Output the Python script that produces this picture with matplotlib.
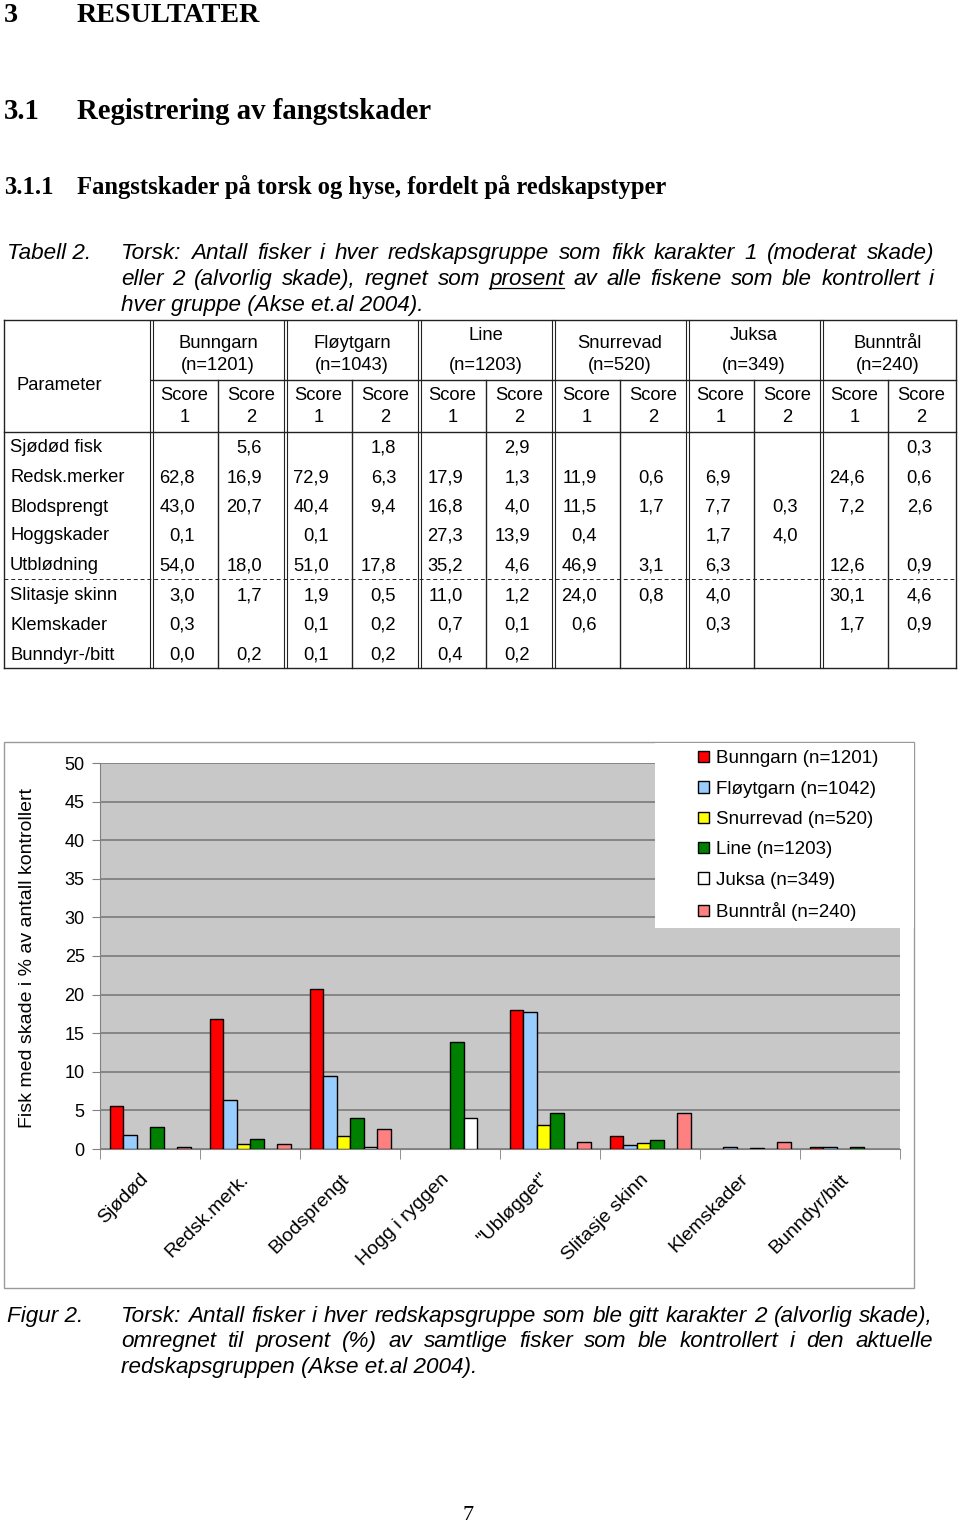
import numpy as np
import matplotlib
matplotlib.use('Agg')
import matplotlib.pyplot as plt
import matplotlib.transforms as mtransforms
from matplotlib.patches import Rectangle

W, H = 960, 1525
SANS = ['Liberation Sans', 'DejaVu Sans']
SERIF = ['Liberation Serif', 'DejaVu Serif']
plt.rcParams['font.family'] = SANS

# ---- data (tabell 2) ----
nan = np.nan
params = ['Sjødød fisk', 'Redsk.merker', 'Blodsprengt', 'Hoggskader',
          'Utblødning', 'Slitasje skinn', 'Klemskader', 'Bunndyr-/bitt']
gear = ['Bunngarn', 'Fløytgarn', 'Line', 'Snurrevad', 'Juksa', 'Bunntrål']
gear_n = ['(n=1201)', '(n=1043)', '(n=1203)', '(n=520)', '(n=349)', '(n=240)']

bunngarn_s1 = [nan, 62.8, 43.0, 0.1, 54.0, 3.0, 0.3, 0.0]
bunngarn_s2 = [5.6, 16.9, 20.7, nan, 18.0, 1.7, nan, 0.2]
floytgarn_s1 = [nan, 72.9, 40.4, 0.1, 51.0, 1.9, 0.1, 0.1]
floytgarn_s2 = [1.8, 6.3, 9.4, nan, 17.8, 0.5, 0.2, 0.2]
line_s1 = [nan, 17.9, 16.8, 27.3, 35.2, 11.0, 0.7, 0.4]
line_s2 = [2.9, 1.3, 4.0, 13.9, 4.6, 1.2, 0.1, 0.2]
snurrevad_s1 = [nan, 11.9, 11.5, 0.4, 46.9, 24.0, 0.6, nan]
snurrevad_s2 = [nan, 0.6, 1.7, nan, 3.1, 0.8, nan, nan]
juksa_s1 = [nan, 6.9, 7.7, 1.7, 6.3, 4.0, 0.3, nan]
juksa_s2 = [nan, nan, 0.3, 4.0, nan, nan, nan, nan]
bunntral_s1 = [nan, 24.6, 7.2, nan, 12.6, 30.1, 1.7, nan]
bunntral_s2 = [0.3, 0.6, 2.6, nan, 0.9, 4.6, 0.9, nan]

table_cols = [(bunngarn_s1, bunngarn_s2), (floytgarn_s1, floytgarn_s2),
              (line_s1, line_s2), (snurrevad_s1, snurrevad_s2),
              (juksa_s1, juksa_s2), (bunntral_s1, bunntral_s2)]

# ---- data (figur 2) ----
categories = ['Sjødød', 'Redsk.merk.', 'Blodsprengt', 'Hogg i ryggen',
              '"Ubløgget"', 'Slitasje skinn', 'Klemskader', 'Bunndyr/bitt']
series_labels = ['Bunngarn (n=1201)', 'Fløytgarn (n=1042)', 'Snurrevad (n=520)',
                 'Line (n=1203)', 'Juksa (n=349)', 'Bunntrål (n=240)']
series_values = [bunngarn_s2, floytgarn_s2, snurrevad_s2, line_s2, juksa_s2, bunntral_s2]
colors = ['#ff0000', '#99ccff', '#ffff00', '#008000', '#ffffff', '#ff8080']

fig = plt.figure(figsize=(W / 100, H / 100), dpi=100)
page = fig.add_axes([0, 0, 1, 1])
page.set_xlim(0, W)
page.set_ylim(H, 0)
page.axis('off')
renderer = fig.canvas.get_renderer()


def justify(words, x0, x1, y, **kw):
    texts = [page.text(0, y, w, va='baseline', ha='left', **kw) for w in words]
    widths = [t.get_window_extent(renderer).width for t in texts]
    gap = ((x1 - x0) - sum(widths)) / (len(words) - 1)
    x = x0
    out = []
    for t, w in zip(texts, widths):
        t.set_x(x)
        out.append((x, w))
        x += w + gap
    return out


def fmt(v):
    return '' if np.isnan(v) else f'{v:.1f}'.replace('.', ',')


# ---- headings ----
hd = dict(family=SERIF, weight='bold', va='baseline')
page.text(4, 22, '3', fontsize=20.2, **hd)
page.text(77, 22, 'RESULTATER', fontsize=20.2, **hd)
page.text(4, 119, '3.1', fontsize=20.7, **hd)
page.text(77, 119, 'Registrering av fangstskader', fontsize=20.7, **hd)
page.text(4, 194, '3.1.1', fontsize=17.7, **hd)
page.text(77, 194, 'Fangstskader på torsk og hyse, fordelt på redskapstyper', fontsize=17.7, **hd)

# ---- table caption ----
cap = dict(fontsize=16.2, style='italic', family=SANS)
page.text(7, 259, 'Tabell 2.', va='baseline', **cap)
justify('Torsk: Antall fisker i hver redskapsgruppe som fikk karakter 1 (moderat skade)'.split(),
        121, 934, 259, **cap)
pos = justify('eller 2 (alvorlig skade), regnet som prosent av alle fiskene som ble kontrollert i'.split(),
              121, 934, 285, **cap)
ux, uw = pos[6]
page.plot([ux, ux + uw], [288, 288], color='black', lw=0.9)
page.text(121, 311, 'hver gruppe (Akse et.al 2004).', va='baseline', **cap)

# ---- table ----
tl, tr, tt, tb = 4, 956, 320, 668
lc = '#222222'
lw = 1.0
for y in (tt, tb, 432):
    page.plot([tl, tr], [y, y], color=lc, lw=lw)
page.plot([151, tr], [380, 380], color=lc, lw=lw)
page.plot([tl, tr], [579, 579], color=lc, lw=0.7, ls=(0, (4, 3)))
page.plot([tl, tl], [tt, tb], color=lc, lw=lw)
page.plot([tr, tr], [tt, tb], color=lc, lw=lw)
group_left = [151, 285, 419, 553, 687, 821]
for gx in group_left:
    for dx in (-1.5, 1.5):
        page.plot([gx + dx, gx + dx], [tt, tb], color=lc, lw=0.8)
    page.plot([gx + 67, gx + 67], [380, tb], color=lc, lw=lw)

tf = 13.2
page.text(16, 386, 'Parameter', fontsize=tf, va='center')
name_y = [344, 344, 336, 344, 336, 344]
row_y = [447, 477, 506, 535, 565, 595, 624, 654]
for i, gx in enumerate(group_left):
    cx = gx + 67
    page.text(cx, name_y[i], gear[i], fontsize=tf, ha='center', va='center')
    page.text(cx, 366, gear_n[i], fontsize=tf, ha='center', va='center')
    for k in range(2):
        sx = gx + 33.5 + 67 * k
        page.text(sx, 396, 'Score', fontsize=tf, ha='center', va='center')
        page.text(sx, 417, str(k + 1), fontsize=tf, ha='center', va='center')
        vals = table_cols[i][k]
        for r, v in enumerate(vals):
            page.text(gx + 67 * (k + 1) - 23, row_y[r] + 1, fmt(v), fontsize=tf,
                      ha='right', va='center')
for r, p in enumerate(params):
    page.text(10, row_y[r] + 1, p, fontsize=tf, va='center')

# ---- chart ----
page.add_patch(Rectangle((4, 742), 910, 546, fill=False, edgecolor='#9a9a9a', lw=1.0))
ax = fig.add_axes([100 / W, 1 - 1149 / H, 800 / W, (1149 - 763) / H])
ax.set_facecolor('#c8c8c8')
x = np.arange(len(categories))
bw = 0.135
handles = []
for j, (vals, c, lab) in enumerate(zip(series_values, colors, series_labels)):
    v = np.array(vals, dtype=float)
    m = ~np.isnan(v)
    xs = x + 0.5 + (j - 2.5) * bw
    ax.bar(xs[m], v[m], width=bw, color=c, edgecolor='black', linewidth=1.0, zorder=3)
    handles.append(Rectangle((0, 0), 1, 1, facecolor=c, edgecolor='black', lw=1.0))
ax.set_xlim(0, len(categories))
ax.set_ylim(0, 50)
ax.set_yticks(np.arange(0, 51, 5))
ax.yaxis.grid(True, color='#808080', lw=1.3)
ax.set_axisbelow(True)
for s in ('top', 'right'):
    ax.spines[s].set_visible(False)
for s in ('left', 'bottom'):
    ax.spines[s].set_color('#808080')
ax.tick_params(axis='y', colors='#808080', length=6, labelsize=13, labelcolor='black', pad=5)
ax.set_xticks(x + 0.5)
ax.set_xticklabels(categories, fontsize=14)
ax.set_xticks(np.arange(len(categories) + 1), minor=True)
ax.tick_params(axis='x', which='major', length=0, pad=20)
ax.tick_params(axis='x', which='minor', length=7, colors='#808080')
shift = mtransforms.ScaledTranslation(-4 / 100, 0, fig.dpi_scale_trans)
for lab in ax.get_xticklabels():
    lab.set_rotation(45)
    lab.set_ha('right')
    lab.set_va('center')
    lab.set_rotation_mode('anchor')
    lab.set_transform(lab.get_transform() + shift)

page.text(28, 958, 'Fisk med skade i % av antall kontrollert', fontsize=14,
          rotation=90, ha='center', va='center')

fig.add_artist(Rectangle((655 / W, 1 - 928 / H), 259 / W, 185 / H,
                         transform=fig.transFigure, facecolor='white',
                         edgecolor='none', zorder=5))
fig.legend(handles, series_labels, loc='upper left',
           bbox_to_anchor=(689 / W, 1 - 741 / H), frameon=False, fontsize=13.5,
           handlelength=0.55, handleheight=0.55, handletextpad=0.38,
           labelspacing=0.71, borderpad=0).set_zorder(6)

# ---- figure caption ----
page.text(7, 1322, 'Figur 2.', va='baseline', **cap)
justify('Torsk: Antall fisker i hver redskapsgruppe som ble gitt karakter 2 (alvorlig skade),'.split(),
        121, 933, 1322, **cap)
justify('omregnet til prosent (%) av samtlige fisker som ble kontrollert i den aktuelle'.split(),
        121, 933, 1347, **cap)
page.text(121, 1373, 'redskapsgruppen (Akse et.al 2004).', va='baseline', **cap)

page.text(468, 1515, '7', family=SERIF, fontsize=16, ha='center', va='center')

fig.savefig('out.png', dpi=100)
